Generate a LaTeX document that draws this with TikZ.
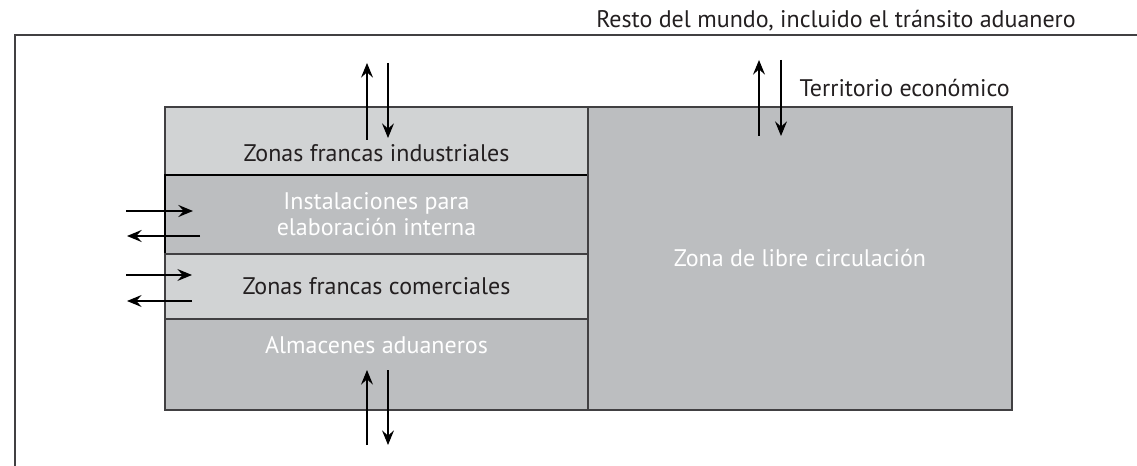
\documentclass[tikz,border=0pt]{standalone}
\usepackage{fontspec}
\setmainfont{PT Sans}
\usetikzlibrary{positioning, arrows.meta}
\definecolor{zclara}{HTML}{D1D3D4}
\definecolor{zoscura}{HTML}{BCBEC0}
\definecolor{borde}{HTML}{414042}
\definecolor{texto}{HTML}{231F20}

\begin{document}
\begin{tikzpicture}[x=0.75pt, y=-0.75pt, font=\fontsize{18}{19.5}\selectfont,
		zona/.style={rectangle, draw=borde, line width=0.8pt, outer sep=0pt, inner ysep=0pt, minimum width=317.25pt, text=texto},
		clara/.style={fill=zclara},
		oscura/.style={fill=zoscura, text=white},
		flecha/.style={-{Stealth[length=11pt, width=9pt, inset=4pt]}, line width=0.8pt},
		flechag/.style={flecha, line width=1.5pt}]
		\useasboundingbox (0,0) rectangle (1137,466);

		\node[zona, clara, text height=41.25pt, text depth=9.75pt, anchor=north west] (ind) at (165,107) {Zonas francas industriales};
		\node[zona, oscura, draw=black, line width=1.4pt, minimum height=59.25pt, align=center, below=0pt of ind] (inst) {Instalaciones para\\elaboración interna};
		\node[zona, clara, minimum height=48.75pt, below=0pt of inst] (com) {Zonas francas comerciales};
		\node[zona, oscura, text height=25.5pt, text depth=42.75pt, below=0pt of com] (alm) {Almacenes aduaneros};
		\node[zona, oscura, minimum width=318pt, minimum height=227.25pt, anchor=north west] (libre) at (ind.north east) {Zona de libre circulación};

		\coordinate (m1) at (15,466);
		\coordinate (m2) at (15,35);
		\coordinate (m3) at (1137,35);
		\draw[borde, line width=0.8pt] (m1) -- (m2) -- (m3);
		\node[anchor=base, text=texto] (resto) at (836,28) {Resto del mundo, incluido el tránsito aduanero};
		\node[anchor=base west, text=texto] (terr) at (795,97) {Territorio económico};

		\coordinate (a1) at (367,140);
		\coordinate (a2) at (367,63);
		\coordinate (a3) at (388,63);
		\coordinate (a4) at (388,138);
		\coordinate (b1) at (126,211);
		\coordinate (b2) at (193,211);
		\coordinate (b3) at (200,236);
		\coordinate (b4) at (127,236);
		\coordinate (c1) at (126,275);
		\coordinate (c2) at (192,275);
		\coordinate (c3) at (192,301);
		\coordinate (c4) at (127,301);
		\coordinate (d1) at (367,445);
		\coordinate (d2) at (367,370);
		\coordinate (d3) at (388,370);
		\coordinate (d4) at (388,445);
		\coordinate (e1) at (759,136);
		\coordinate (e2) at (759,60);
		\coordinate (e3) at (781,60);
		\coordinate (e4) at (781,136);

		\path[flecha] (a1) edge (a2);
		\path[flecha] (a3) edge (a4);
		\path[flechag] (b1) edge (b2);
		\path[flechag] (b3) edge (b4);
		\path[flecha] (c1) edge (c2);
		\path[flecha] (c3) edge (c4);
		\path[flecha] (d1) edge (d2);
		\path[flecha] (d3) edge (d4);
		\path[flecha] (e1) edge (e2);
		\path[flecha] (e3) edge (e4);
	\end{tikzpicture}
\end{document}
